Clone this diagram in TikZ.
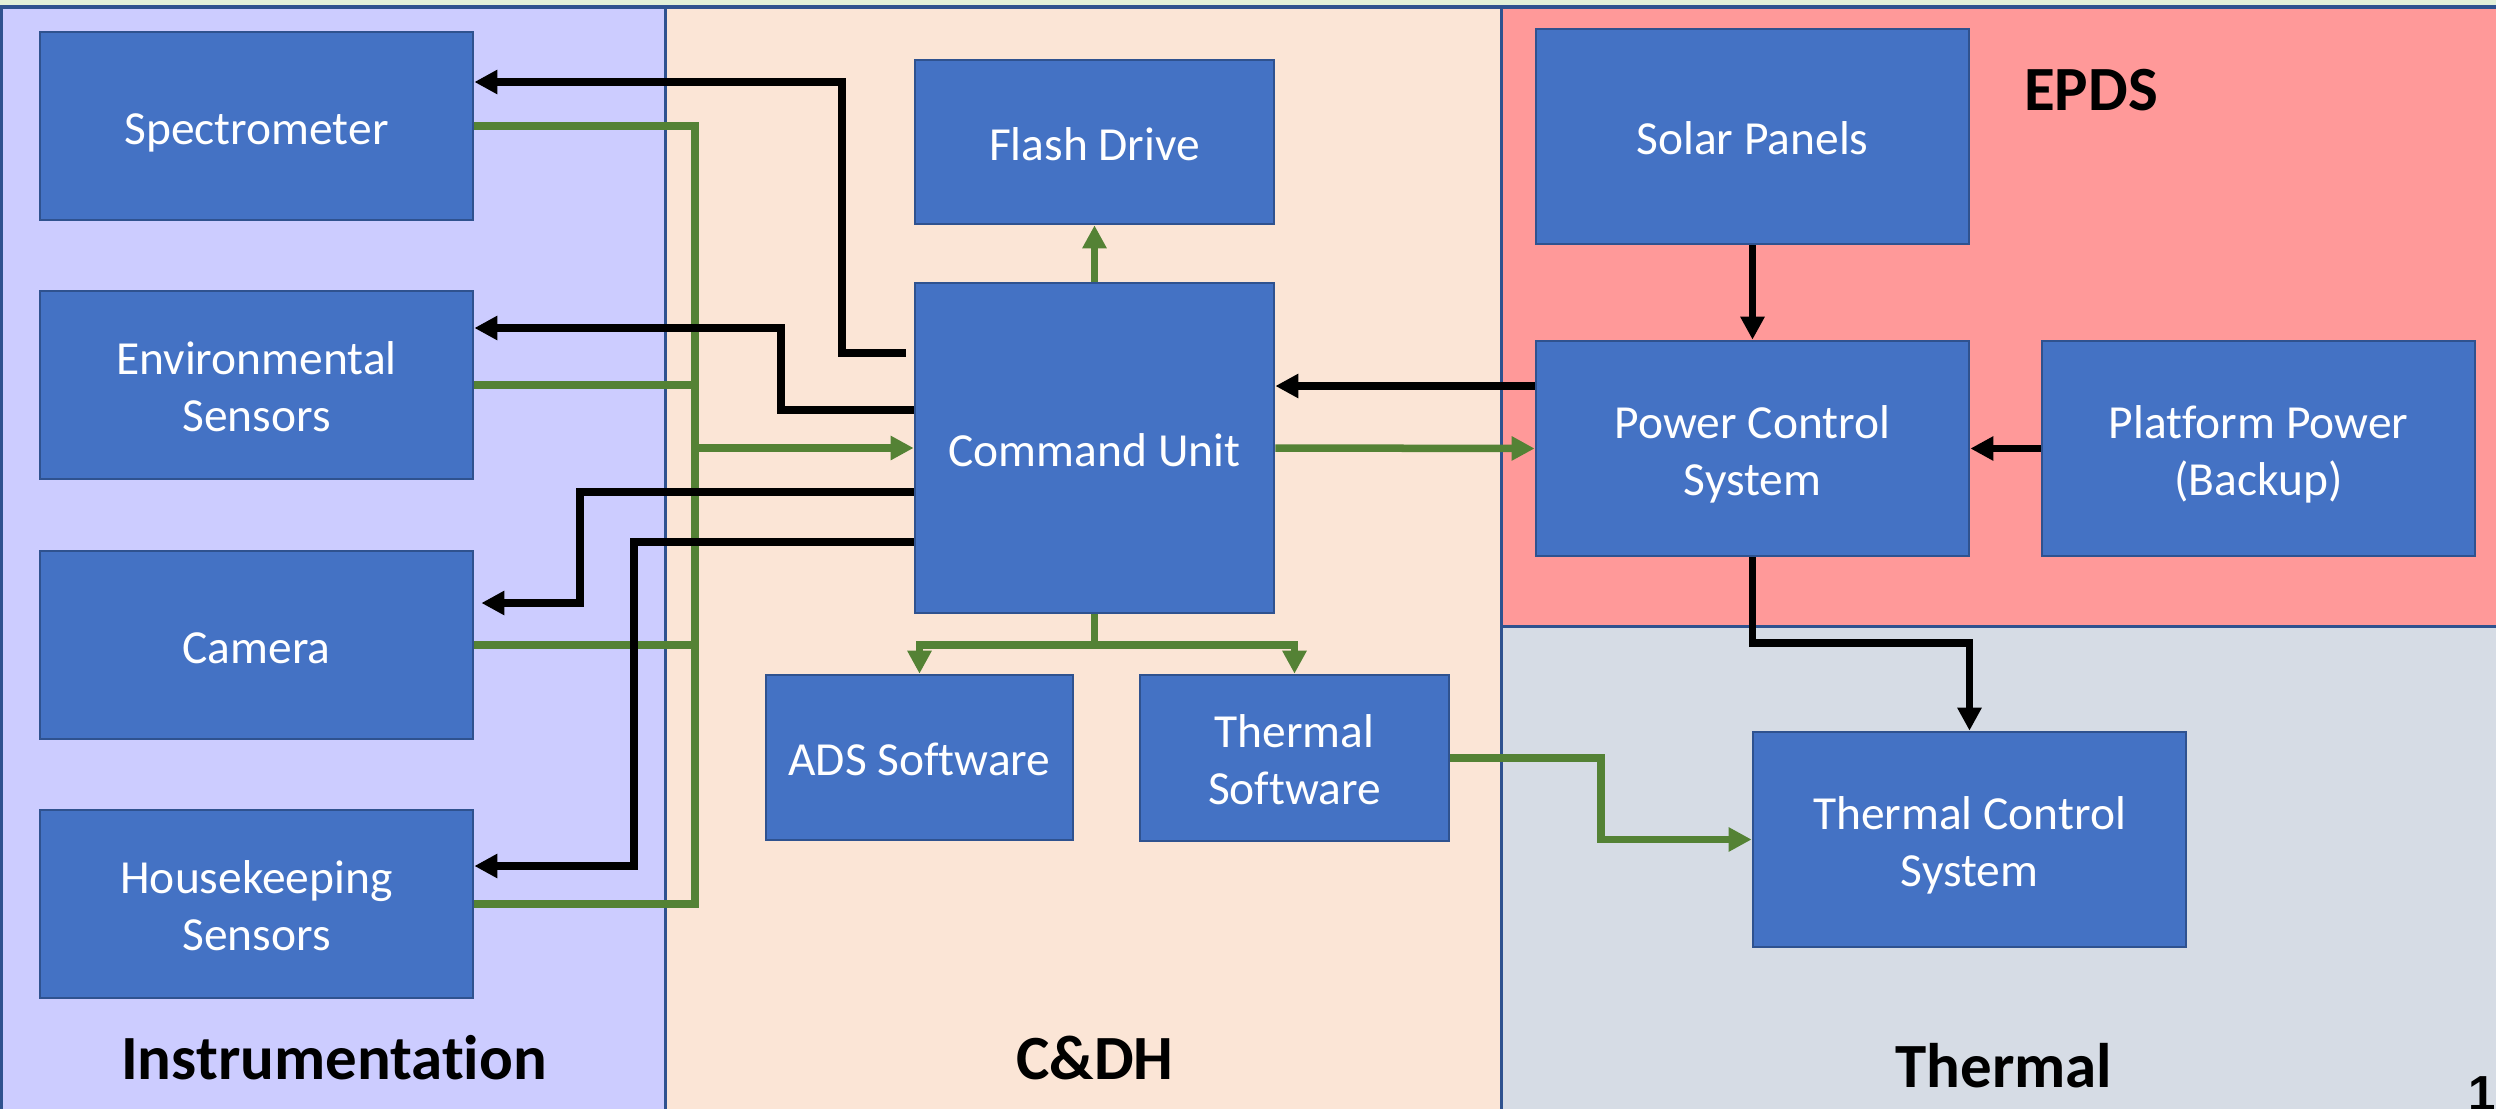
\documentclass[tikz,border=0pt]{standalone}
\usepackage{fontspec}
\setmainfont{Carlito}[Ligatures={NoCommon},Contextuals={NoAlternate}]
\newfontfamily\pgnum{Liberation Sans}
\usetikzlibrary{arrows.meta,calc}
\definecolor{instfill}{HTML}{CCCCFF}
\definecolor{cdhfill}{HTML}{FBE5D6}
\definecolor{epdsfill}{HTML}{FF9999}
\definecolor{thermfill}{HTML}{D6DCE5}
\definecolor{stripfill}{HTML}{E2F0D9}
\definecolor{boxfill}{HTML}{4472C4}
\definecolor{boxline}{HTML}{2F528F}
\definecolor{grn}{HTML}{548235}
\newcommand\bxstrut{\rule[-3.6pt]{0pt}{17.6pt}}
\newcommand\topstrut{\rule{0pt}{14pt}}
\begin{document}
\begin{tikzpicture}[x=0.01cm,y=-0.01cm,
  panel/.style={draw=boxline, line width=0.03cm},
  box/.style={draw=boxline, fill=boxfill, line width=0.025cm, text=white, align=center,
    font=\fontsize{13.5}{16.2}\selectfont, inner sep=0pt,
    execute at begin node=\bxstrut, execute at end node=\bxstrut},
  widebox/.style={box, minimum width=4.33cm},
  blk/.style={line width=0.075cm, black, -{Triangle[length=0.23cm,width=0.23cm]}},
  gln/.style={line width=0.075cm, grn},
  garr/.style={gln, -{Triangle[length=0.23cm,width=0.23cm]}},
  lbl/.style={font=\fontsize{17.9}{20}\selectfont\bfseries, inner sep=0pt}
]
\useasboundingbox (0,0) rectangle (2496,1109);
\clip (0,0) rectangle (2496,1109);
% background panels
\fill[stripfill] (0,0) rectangle (2496,8);
\path[panel, fill=instfill] (1,7) rectangle (665,1120);
\path[panel, fill=cdhfill] (665,7) rectangle (1501,1120);
\path[panel, fill=epdsfill] (1501,7) rectangle (2510,626);
\path[panel, fill=thermfill] (1501,626) rectangle (2510,1120);
% panel labels
\node[lbl] (linst) at (334,1058) {Instrumentation};
\node[lbl] (lcdh) at (1095,1058) {C\&DH};
\node[lbl] (ltherm) at (2004,1066) {Thermal};
\node[lbl] (lepds) at (2091,90) {EPDS};
\node[anchor=base west, font=\pgnum\bfseries\fontsize{14}{16}\selectfont, inner sep=0pt] (pg) at (2468,1110) {12};
% boxes
\node[widebox, minimum height=1.88cm] (spec) at (256.5,126) {Spectrometer};
\node[widebox, minimum height=1.88cm] (env) at (256.5,385) {\topstrut Environmental\\Sensors};
\node[widebox, minimum height=1.88cm] (cam) at (256.5,645) {Camera};
\node[widebox, minimum height=1.88cm] (hk) at (256.5,904) {\topstrut Housekeeping\\Sensors};
\node[box, minimum width=3.59cm, minimum height=1.64cm] (flash) at (1094.5,142) {Flash Drive};
\node[box, minimum width=3.59cm, minimum height=3.30cm] (cu) at (1094.5,448) {Command Unit};
\node[box, minimum width=3.07cm, minimum height=1.65cm] (ads) at (919.5,757.5) {ADS Software};
\node[box, minimum width=3.09cm, minimum height=1.66cm] (tsw) at (1294.5,758) {\topstrut Thermal\\Software};
\node[widebox, minimum height=2.15cm] (solar) at (1752.5,136.5) {Solar Panels};
\node[widebox, minimum height=2.15cm] (pcs) at (1752.5,448.5) {\topstrut Power Control\\System};
\node[widebox, minimum height=2.15cm] (pp) at (2258.5,448.5) {\topstrut Platform Power\\(Backup)};
\node[widebox, minimum height=2.15cm] (tcs) at (1969.5,839.5) {\topstrut Thermal Control\\System};
% green data lines from instruments
\draw[gln] (spec.east) -- (695,126) -- (695,904) -- (hk.east);
\draw[gln] (env.east) -- (695,385);
\draw[gln] (cam.east) -- (695,645);
\draw[garr] (695,448) -- (cu.west);
% black command lines to instruments
\draw[blk] ($(cu.west |- 0,353)+(-8,0)$) -| (842,82) -- (spec.east |- 0,82);
\draw[blk] (cu.west |- 0,410) -| (781,328) -- (env.east |- 0,328);
\draw[blk] (cu.west |- 0,492) -| (580,603) -- ($(cam.east |- 0,603)+(7,0)$);
\draw[blk] (cu.west |- 0,542) -| (634,866) -- (hk.east |- 0,866);
% C&DH internal
\draw[garr] (cu.north) -- (flash.south);
\draw[garr] (cu.south) -- (cu.south |- 0,645) -| (ads.north);
\draw[garr] (cu.south |- 0,645) -| (tsw.north);
% EPDS
\draw[garr] (cu.east) -- (pcs.west);
\draw[blk] (pcs.west |- 0,386) -- (cu.east |- 0,386);
\draw[blk] (solar.south) -- (pcs.north);
\draw[blk] (pp.west) -- (pcs.east);
\draw[blk] (pcs.south) -- (pcs.south |- 0,643) -| (tcs.north);
% thermal
\draw[garr] (tsw.east) -| (1601,839.5) -- (tcs.west);
\end{tikzpicture}
\end{document}
